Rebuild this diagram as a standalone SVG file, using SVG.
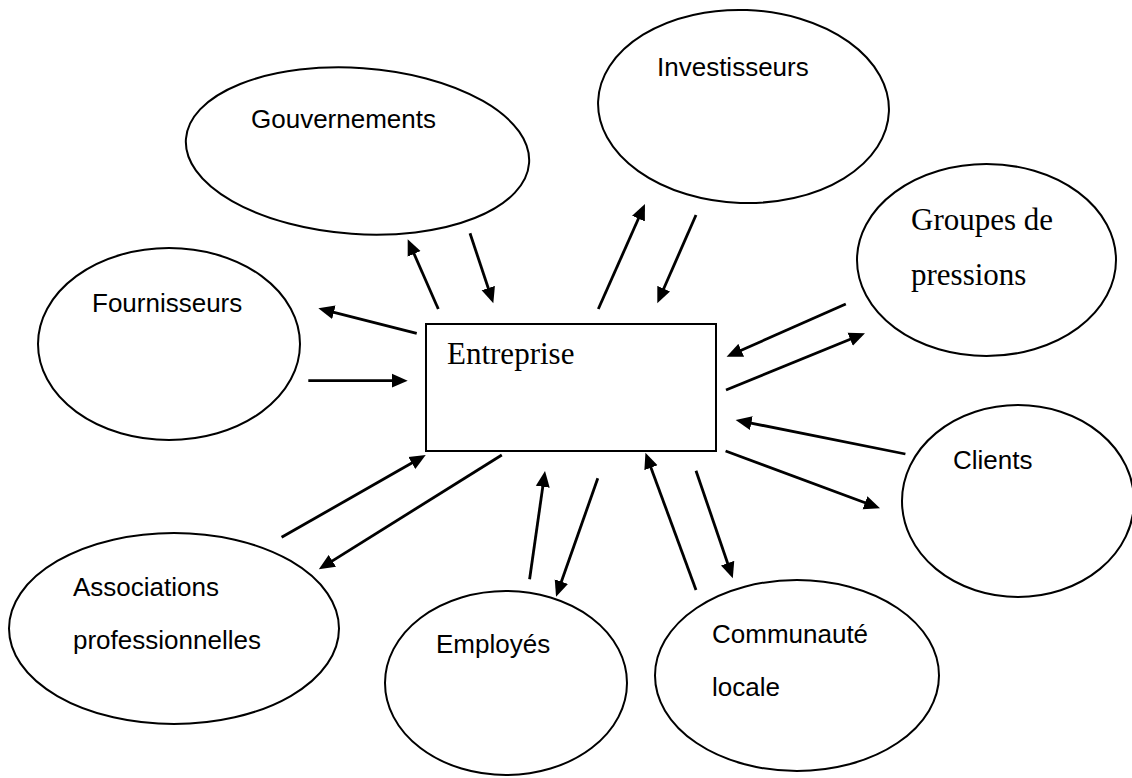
<svg xmlns="http://www.w3.org/2000/svg" width="1132" height="778" viewBox="0 0 1132 778">
<style>
.node{fill:#fff;stroke:#000;stroke-width:2}
.lbl{font-family:"Liberation Sans",Arial,sans-serif;font-size:26px;fill:#000}
.ser{font-family:"Liberation Serif","Times New Roman",serif;font-size:31px;fill:#000}
.con line{stroke:#000;stroke-width:2.8;marker-end:url(#ah)}
</style>
<defs>
<marker id="ah" markerUnits="userSpaceOnUse" markerWidth="17" markerHeight="15" refX="8" refY="7.5" orient="auto">
<path d="M0,0.5 L16,7.5 L0,14.5 z" fill="#000"/>
</marker>
</defs>
<rect width="1132" height="778" fill="#fff"/>
<g id="gouvernements"><ellipse class="node" cx="357.5" cy="151" rx="172" ry="83" transform="rotate(4 357.5 151)"/><text class="lbl" x="251" y="128">Gouvernements</text></g>
<g id="investisseurs"><ellipse class="node" cx="743.5" cy="106.5" rx="145.5" ry="96.5" transform="rotate(2 743.5 106.5)"/><text class="lbl" x="657" y="76">Investisseurs</text></g>
<g id="groupes"><ellipse class="node" cx="986.5" cy="260" rx="129.5" ry="96"/><text class="ser" x="911" y="230">Groupes de</text><text class="ser" x="911" y="285">pressions</text></g>
<g id="fournisseurs"><ellipse class="node" cx="169" cy="344" rx="131" ry="96"/><text class="lbl" x="92" y="312">Fournisseurs</text></g>
<g id="entreprise"><rect class="node" x="426" y="324" width="290" height="127"/><text class="ser" x="447" y="364">Entreprise</text></g>
<g id="clients"><ellipse class="node" cx="1018" cy="501" rx="116" ry="96"/><text class="lbl" x="953" y="469">Clients</text></g>
<g id="associations"><ellipse class="node" cx="174" cy="628.5" rx="165" ry="95.5"/><text class="lbl" x="73" y="596">Associations</text><text class="lbl" x="73" y="649">professionnelles</text></g>
<g id="employes"><ellipse class="node" cx="506" cy="683" rx="121" ry="92"/><text class="lbl" x="436" y="653">Employés</text></g>
<g id="communaute"><ellipse class="node" cx="797" cy="675.5" rx="142" ry="95.5"/><text class="lbl" x="712" y="643">Communauté</text><text class="lbl" x="712" y="696">locale</text></g>
<g id="connectors" class="con">
<line x1="438.3" y1="309" x2="410.9" y2="246.6"/>
<line x1="470" y1="233.3" x2="490.8" y2="295.7"/>
<line x1="598.3" y1="309" x2="641.7" y2="211.3"/>
<line x1="696" y1="215" x2="660.5" y2="296"/>
<line x1="416.7" y1="333.3" x2="326.1" y2="310.3"/>
<line x1="308.3" y1="380.7" x2="399.7" y2="380.7"/>
<line x1="281.6" y1="537.3" x2="418.8" y2="459"/>
<line x1="501.8" y1="455" x2="325.6" y2="565.1"/>
<line x1="529.6" y1="579.3" x2="543.9" y2="478.9"/>
<line x1="597.8" y1="478.3" x2="558.7" y2="589.2"/>
<line x1="696" y1="590" x2="648.2" y2="460.2"/>
<line x1="696" y1="470.7" x2="730.2" y2="570.7"/>
<line x1="905.4" y1="454" x2="743.5" y2="421.6"/>
<line x1="725.6" y1="451" x2="872.5" y2="505.5"/>
<line x1="845.8" y1="304" x2="733.9" y2="353.5"/>
<line x1="726" y1="390" x2="857.6" y2="336.3"/>
</g>
</svg>
